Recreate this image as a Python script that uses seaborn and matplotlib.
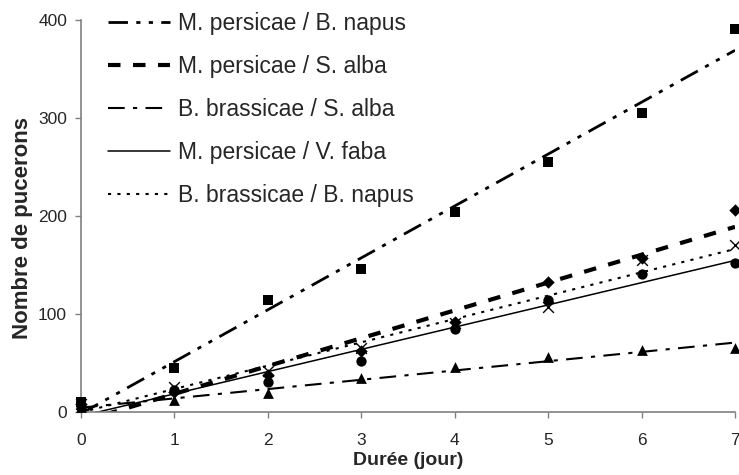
import matplotlib
matplotlib.use("Agg")
import matplotlib.pyplot as plt
import seaborn as sns
import numpy as np
import pandas as pd

sns.set_style("white")
plt.rcParams['font.family'] = ['Liberation Sans', 'DejaVu Sans']

days = [0, 1, 2, 3, 4, 5, 6, 7]
labels = ["M. persicae / B. napus", "M. persicae / S. alba", "B. brassicae / S. alba",
          "M. persicae / V. faba", "B. brassicae / B. napus"]
mp_bnapus = [10, 45, 114, 146, 204, 255, 305, 391]
mp_salba = [8, 20, 38, 62, 92, 133, 157, 206]
bb_salba = [5, 12, 19, 35, 46, 56, 63, 65]
mp_vfaba = [5, 22, 31, 52, 85, 114, 141, 152]
bb_bnapus = [8, 26, 42, 65, 91, 107, 155, 170]
yticks = [0, 100, 200, 300, 400]

series = [mp_bnapus, mp_salba, bb_salba, mp_vfaba, bb_bnapus]
markers = ["s", "D", "^", "o", "x"]
msizes = [50, 40, 60, 55, 60]
styles = [(0, (7, 3, 1.5, 3, 1.5, 3)), (0, (3, 3)), (0, (8, 4, 2, 4)), "-", (0, (1.5, 3))]
lws = [2.0, 3.0, 1.5, 1.1, 1.5]

fig = plt.figure(figsize=(7.39, 4.75), dpi=100)
ax = fig.add_axes([81/739, 63/475, 654/739, 392/475])

handles = []
for vals, lab, m, ms, ls, lw in zip(series, labels, markers, msizes, styles, lws):
    df = pd.DataFrame({"x": days, "y": vals})
    skw = dict(s=ms, color="black", alpha=1, clip_on=False, zorder=3)
    skw["linewidths"] = 1.0 if m == "x" else 0
    sns.regplot(data=df, x="x", y="y", ax=ax, ci=None, marker=m, truncate=True,
                scatter_kws=skw,
                line_kws=dict(color="black", linestyle=ls, linewidth=lw, label=lab))
    handles.append(ax.lines[-1])

ax.set_xlim(0, 7)
ax.set_ylim(0, 400)
ax.set_xticks(days)
ax.set_yticks(yticks)
ax.tick_params(axis="both", labelsize=12.5, direction="out", length=4, color="#808080",
               bottom=True, left=True, width=1)
ax.tick_params(axis="x", pad=11)
ax.tick_params(axis="y", pad=6)
for s in ["top", "right"]:
    ax.spines[s].set_visible(False)
for s in ["left", "bottom"]:
    ax.spines[s].set_color("#808080")
    ax.spines[s].set_linewidth(1.2)
ax.set_xlabel("Durée (jour)", fontsize=14, fontweight="bold", labelpad=3)
ax.set_ylabel("Nombre de pucerons", fontsize=16, fontweight="bold")
ax.yaxis.set_label_coords(-0.073, 0.469)

ax.legend(handles=handles, labels=labels, loc="upper left", bbox_to_anchor=(0.01, 1.073),
          frameon=False, fontsize=16.5, handlelength=2.7, handletextpad=0.35,
          labelspacing=0.87)

fig.savefig("out.png", dpi=100)
